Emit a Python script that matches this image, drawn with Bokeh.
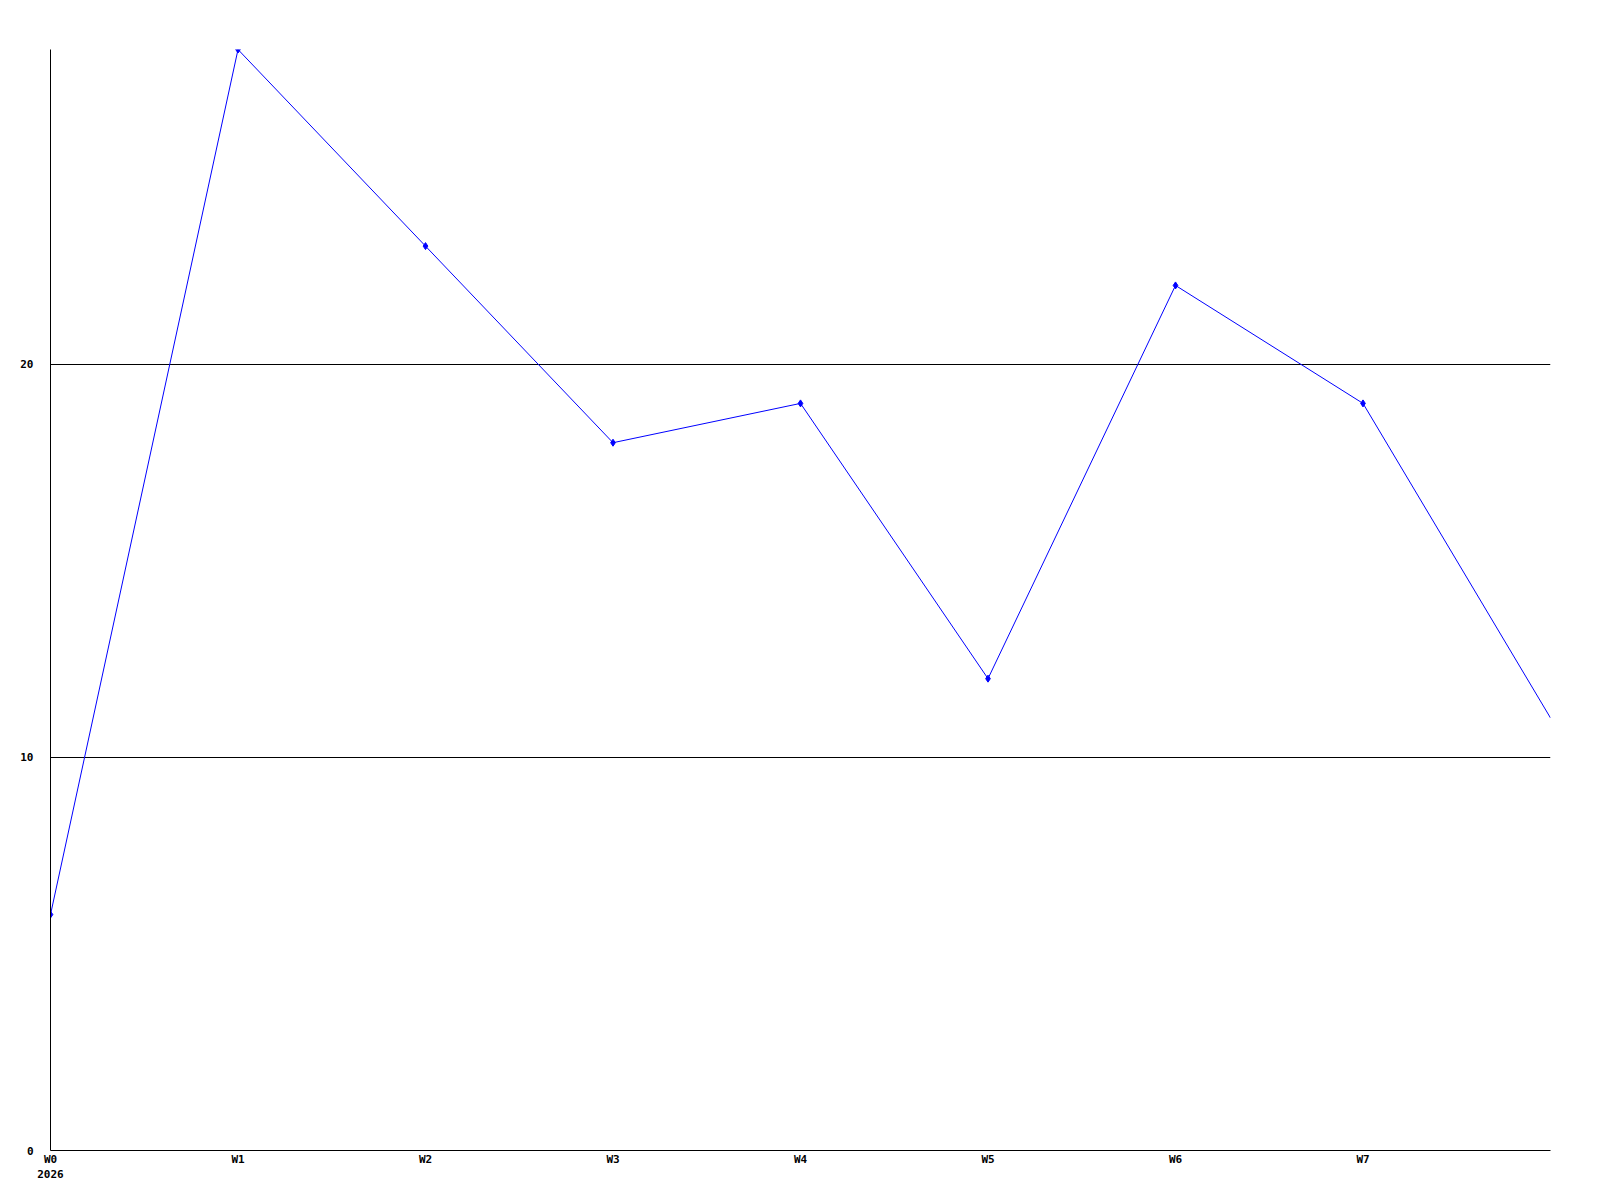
from bokeh.plotting import figure
from bokeh.models import Range1d, FixedTicker
from bokeh.embed import file_html
from bokeh.resources import INLINE

weeks = [0, 1, 2, 3, 4, 5, 6, 7, 8]
values = [6, 28, 23, 18, 19, 12, 22, 19, 11]
week_labels = ["W0", "W1", "W2", "W3", "W4", "W5", "W6", "W7"]
year_label = "2026"
y_ticks = [0, 10, 20]
grid_ticks = [10, 20]

p = figure(width=1584, height=1184, output_backend="svg", toolbar_location=None,
           x_range=Range1d(0, 8), y_range=Range1d(0, 28),
           min_border_left=50, min_border_right=34, min_border_top=49, min_border_bottom=30)
p.outline_line_color = None
p.background_fill_color = "white"
p.border_fill_color = "white"

p.line(weeks, values, line_color="#0000ff", line_width=1)
p.scatter(weeks[:-1], values[:-1], marker="diamond", size=7, color="#0000ff")

p.xgrid.visible = False
p.ygrid.ticker = FixedTicker(ticks=grid_ticks)
p.ygrid.grid_line_color = "black"
p.ygrid.grid_line_width = 1

labels = {w: l for w, l in zip(weeks, week_labels)}
labels[0] = week_labels[0] + "\n" + year_label
p.xaxis.ticker = FixedTicker(ticks=weeks[:-1])
p.xaxis.major_label_overrides = labels
p.yaxis.ticker = FixedTicker(ticks=y_ticks)

for ax in (p.xaxis, p.yaxis):
    ax.axis_line_color = "black"
    ax.axis_line_width = 1
    ax.major_tick_line_color = None
    ax.minor_tick_line_color = None
    ax.major_tick_in = 0
    ax.major_tick_out = 0
    ax.major_label_text_font = "DejaVu Sans Mono"
    ax.major_label_text_font_style = "bold"
    ax.major_label_text_font_size = "11px"
    ax.major_label_text_color = "black"
p.xaxis.major_label_standoff = 2
p.yaxis.major_label_standoff = 17

open("out.html", "w").write(file_html(p, INLINE))
